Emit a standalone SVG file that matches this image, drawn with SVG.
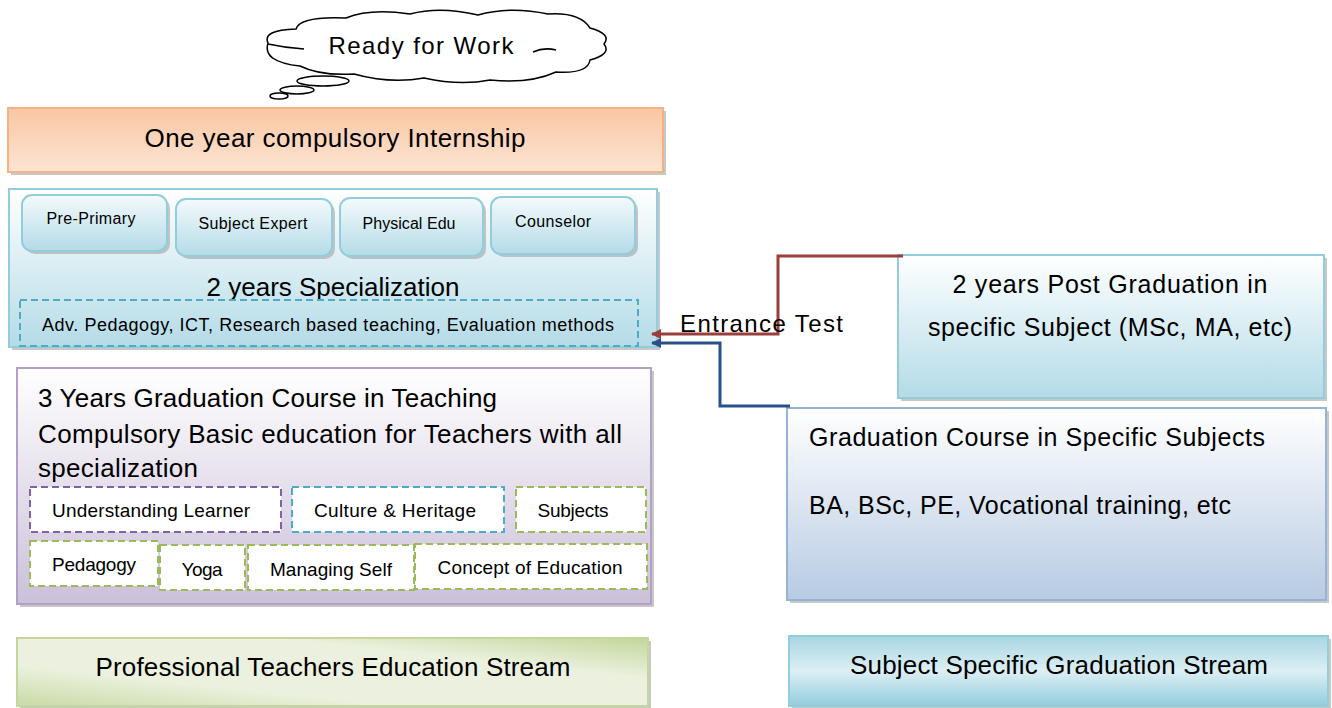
<svg xmlns="http://www.w3.org/2000/svg" width="1332" height="708" viewBox="0 0 1332 708">
<defs>
<linearGradient id="gOrange" x1="0" y1="0" x2="0" y2="1"><stop offset="0" stop-color="#f9c6a2"/><stop offset="1" stop-color="#fde5d4"/></linearGradient>
<linearGradient id="gBlue" x1="0" y1="0" x2="0" y2="1"><stop offset="0" stop-color="#ffffff"/><stop offset="1" stop-color="#b4dbe7"/></linearGradient>
<linearGradient id="gSub" x1="0" y1="0" x2="0" y2="1"><stop offset="0" stop-color="#f4fafc"/><stop offset="1" stop-color="#b4dbe7"/></linearGradient>
<linearGradient id="gLav" x1="0" y1="0" x2="0" y2="1"><stop offset="0" stop-color="#ffffff"/><stop offset="1" stop-color="#cbc0d9"/></linearGradient>
<linearGradient id="gSteel" x1="0" y1="0" x2="0" y2="1"><stop offset="0" stop-color="#ffffff"/><stop offset="1" stop-color="#b8cbe3"/></linearGradient>
<linearGradient id="gGreen" x1="0" y1="1" x2="1" y2="0"><stop offset="0" stop-color="#c9daa6"/><stop offset="0.3" stop-color="#ebf1de"/><stop offset="0.7" stop-color="#ebf1de"/><stop offset="1" stop-color="#c3d69b"/></linearGradient>
<linearGradient id="gCyan" x1="0" y1="0" x2="0" y2="1"><stop offset="0" stop-color="#a8d6e3"/><stop offset="0.5" stop-color="#dceff4"/><stop offset="1" stop-color="#93cddd"/></linearGradient>
<marker id="arrRed" markerWidth="10" markerHeight="10" refX="9" refY="5" orient="auto" markerUnits="userSpaceOnUse"><path d="M0,0 L10,5 L0,10 Z" fill="#9b3d3b"/></marker>
<marker id="arrBlue" markerWidth="10" markerHeight="10" refX="9" refY="5" orient="auto" markerUnits="userSpaceOnUse"><path d="M0,0 L10,5 L0,10 Z" fill="#2a5089"/></marker>
</defs>
<style>
text{font-family:"Liberation Sans",Arial,sans-serif;fill:#000}
.shadow{fill:#9a9a9a;opacity:0.55}
.dash{fill:#fff;stroke-width:2;stroke-dasharray:7,4}
</style>

<g id="cloud">
<path d="M268,43 Q262,30 296,29 Q300,16 346,18 Q370,8 410,14 Q440,6 478,15 Q510,6 548,14 Q580,12 590,28 Q612,34 604,44 Q612,54 590,60 Q588,74 556,72 Q530,84 490,80 Q460,86 424,78 Q390,84 354,74 Q320,76 300,66 Q262,62 268,43 Z" fill="#fff" stroke="#000" stroke-width="1.5"/>
<path d="M268,44 Q286,48 304,49" fill="none" stroke="#000" stroke-width="1.5"/>
<path d="M533,52 Q544,47 556,50" fill="none" stroke="#000" stroke-width="1.5"/>
<ellipse cx="323" cy="81" rx="26" ry="5" fill="#fff" stroke="#000" stroke-width="1.5"/>
<ellipse cx="297" cy="90" rx="17" ry="4" fill="#fff" stroke="#000" stroke-width="1.5"/>
<ellipse cx="279" cy="96" rx="9" ry="3" fill="#fff" stroke="#000" stroke-width="1.5"/>
<text x="421" y="54" font-size="24" text-anchor="middle" textLength="185">Ready for Work</text>
</g>

<g id="internship">
<rect class="shadow" x="11" y="111" width="655" height="64"/>
<rect x="8" y="108" width="655" height="64" fill="url(#gOrange)" stroke="#f4b183" stroke-width="2"/>
<text x="335" y="147" font-size="26" text-anchor="middle" textLength="381">One year compulsory Internship</text>
</g>

<g id="specialization">
<rect class="shadow" x="12" y="192" width="648" height="158"/>
<rect x="9" y="189" width="648" height="158" fill="url(#gBlue)" stroke="#92cddc" stroke-width="2"/>
<g id="pre-primary">
<rect class="shadow" x="25" y="198" width="145" height="56" rx="10"/>
<rect x="22" y="195" width="145" height="56" rx="10" fill="url(#gSub)" stroke="#92cddc" stroke-width="2"/>
<text x="91" y="224" font-size="16" text-anchor="middle" textLength="89">Pre-Primary</text>
</g>
<g id="subject-expert">
<rect class="shadow" x="179" y="202" width="156" height="57" rx="10"/>
<rect x="176" y="199" width="156" height="57" rx="10" fill="url(#gSub)" stroke="#92cddc" stroke-width="2"/>
<text x="253" y="229" font-size="16" text-anchor="middle" textLength="109">Subject Expert</text>
</g>
<g id="physical-edu">
<rect class="shadow" x="343" y="201" width="143" height="58" rx="10"/>
<rect x="340" y="198" width="143" height="58" rx="10" fill="url(#gSub)" stroke="#92cddc" stroke-width="2"/>
<text x="409" y="229" font-size="16" text-anchor="middle" textLength="93">Physical Edu</text>
</g>
<g id="counselor">
<rect class="shadow" x="494" y="200" width="144" height="57" rx="10"/>
<rect x="491" y="197" width="144" height="57" rx="10" fill="url(#gSub)" stroke="#92cddc" stroke-width="2"/>
<text x="553" y="227" font-size="16" text-anchor="middle" textLength="76">Counselor</text>
</g>
<text x="333" y="296" font-size="26" text-anchor="middle" textLength="253">2 years Specialization</text>
<rect x="20" y="300" width="618" height="46" fill="none" stroke="#4bacc6" stroke-width="2" stroke-dasharray="7,4"/>
<text x="328" y="331" font-size="18" text-anchor="middle" textLength="572">Adv. Pedagogy, ICT, Research based teaching, Evaluation methods</text>
</g>

<g id="post-graduation">
<rect class="shadow" x="901" y="258" width="426" height="143"/>
<rect x="898" y="255" width="426" height="143" fill="url(#gBlue)" stroke="#92cddc" stroke-width="2"/>
<text x="1110" y="293" font-size="25" text-anchor="middle" textLength="315">2 years Post Graduation in</text>
<text x="1110" y="336" font-size="25" text-anchor="middle" textLength="364">specific Subject (MSc, MA, etc)</text>
</g>

<g id="graduation-teaching">
<rect class="shadow" x="20" y="371" width="634" height="236"/>
<rect x="17" y="368" width="634" height="236" fill="url(#gLav)" stroke="#b2a1c7" stroke-width="2"/>
<text x="38" y="407" font-size="26" textLength="459">3 Years Graduation Course in Teaching</text>
<text x="38" y="443" font-size="26" textLength="584">Compulsory Basic education for Teachers with all</text>
<text x="38" y="477" font-size="26" textLength="160">specialization</text>
<g id="understanding-learner"><rect class="dash" x="30" y="487" width="251" height="45" stroke="#8064a2"/><text x="151" y="517" font-size="19" text-anchor="middle" textLength="198">Understanding Learner</text></g>
<g id="culture-heritage"><rect class="dash" x="292" y="487" width="212" height="45" stroke="#4bacc6"/><text x="395" y="517" font-size="19" text-anchor="middle" textLength="162">Culture &amp; Heritage</text></g>
<g id="subjects"><rect class="dash" x="516" y="487" width="130" height="45" stroke="#9bbb59"/><text x="573" y="517" font-size="19" text-anchor="middle" textLength="71">Subjects</text></g>
<g id="pedagogy"><rect class="dash" x="30" y="541" width="128" height="45" stroke="#9bbb59"/><text x="94" y="571" font-size="19" text-anchor="middle" textLength="84">Pedagogy</text></g>
<g id="yoga"><rect class="dash" x="160" y="545" width="85" height="45" stroke="#9bbb59"/><text x="202" y="576" font-size="19" text-anchor="middle" textLength="41">Yoga</text></g>
<g id="managing-self"><rect class="dash" x="248" y="545" width="166" height="45" stroke="#9bbb59"/><text x="331" y="576" font-size="19" text-anchor="middle" textLength="122">Managing Self</text></g>
<g id="concept-education"><rect class="dash" x="415" y="544" width="232" height="45" stroke="#9bbb59"/><text x="530" y="574" font-size="19" text-anchor="middle" textLength="185">Concept of Education</text></g>
</g>

<g id="graduation-subjects">
<rect class="shadow" x="790" y="411" width="539" height="192"/>
<rect x="787" y="408" width="539" height="192" fill="url(#gSteel)" stroke="#95b3d7" stroke-width="2"/>
<text x="809" y="446" font-size="25" textLength="456">Graduation Course in Specific Subjects</text>
<text x="809" y="514" font-size="25" textLength="422">BA, BSc, PE, Vocational training, etc</text>
</g>

<g id="professional-stream">
<rect class="shadow" x="20" y="641" width="631" height="68"/>
<rect x="17" y="638" width="631" height="68" fill="url(#gGreen)" stroke="#c3d69b" stroke-width="2"/>
<text x="333" y="676" font-size="26" text-anchor="middle" textLength="475">Professional Teachers Education Stream</text>
</g>

<g id="subject-stream">
<rect class="shadow" x="792" y="639" width="539" height="70"/>
<rect x="789" y="636" width="539" height="70" fill="url(#gCyan)" stroke="#92cddc" stroke-width="2"/>
<text x="1059" y="674" font-size="26" text-anchor="middle" textLength="418">Subject Specific Graduation Stream</text>
</g>

<g id="connectors">
<polyline points="903,256 778,256 778,334 652,334" fill="none" stroke="#9b3d3b" stroke-width="3" marker-end="url(#arrRed)"/>
<polyline points="790,406 720,406 720,343 652,343" fill="none" stroke="#2a5089" stroke-width="3" marker-end="url(#arrBlue)"/>
<text x="680" y="332" font-size="24" textLength="163">Entrance Test</text>
</g>
</svg>
